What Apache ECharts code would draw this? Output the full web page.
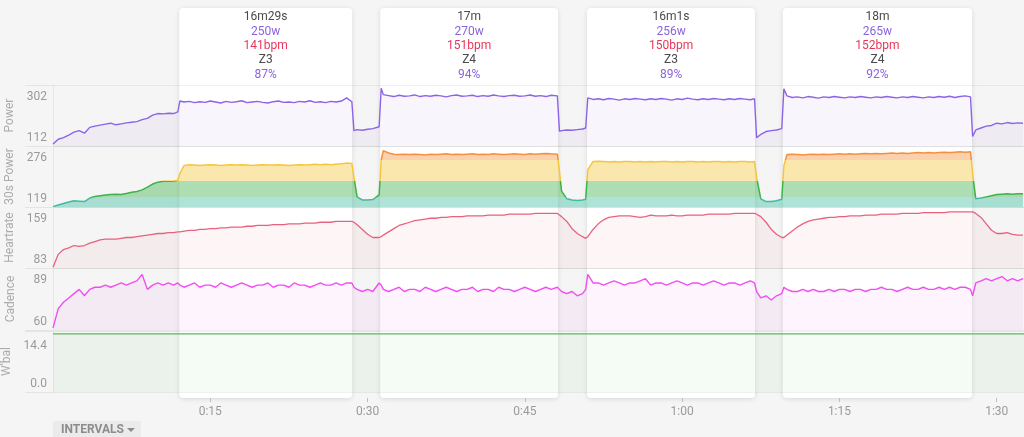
<!DOCTYPE html>
<html><head><meta charset="utf-8">
<script src="https://cdn.jsdelivr.net/npm/echarts@6/dist/echarts.min.js"></script>
<style>html,body{margin:0;padding:0;background:#f5f5f5;}#c{width:1024px;height:437px;}</style>
</head><body><div id="c"></div>
<script>
// ---- time base (minutes) ----
const t = [
 0,0.5,1,1.5,2,2.5,3,3.5,4,4.5,5,5.5,6,6.5,7,7.5,8,8.5,9,9.5,10,10.5,11,11.5,11.9,
 12.1,12.5,13,13.5,14,14.5,15,15.5,16,16.5,17,17.5,18,18.5,19,19.5,20,20.5,21,21.5,22,22.5,23,23.5,24,24.5,25,25.5,26,26.5,27,27.5,28,28.5,
 28.7,29,29.5,30,30.5,31.1,
 31.3,31.5,32,32.5,33,33.5,34,34.5,35,35.5,36,36.5,37,37.5,38,38.5,39,39.5,40,40.5,41,41.5,42,42.5,43,43.5,44,44.5,45,45.5,46,46.5,47,47.5,48.1,
 48.3,48.5,49,49.5,50,50.5,50.8,
 51,51.5,52,52.5,53,53.5,54,54.5,55,55.5,56,56.5,57,57.5,58,58.5,59,59.5,60,60.5,61,61.5,62,62.5,63,63.5,64,64.5,65,65.5,66,66.5,66.9,
 67.1,67.5,68,68.5,69,69.5,
 69.7,70,70.5,71,71.5,72,72.5,73,73.5,74,74.5,75,75.5,76,76.5,77,77.5,78,78.5,79,79.5,80,80.5,81,81.5,82,82.5,83,83.5,84,84.5,85,85.5,86,86.5,87,87.5,
 87.7,88,88.5,89,89.5,90,90.5,91,91.5,92,92.5
];
const power = [
 118,133,138,146,155,160,152,170,174,177,180,183,178,181,184,186,188,194,198,208,213,212,214,213,218,
 252,249,251,247,250,248,252,249,246,251,248,250,253,247,249,251,248,246,250,252,248,249,247,251,249,253,248,250,247,251,249,252,262,250,
 160,163,161,164,166,172,
 292,272,269,266,270,267,268,271,266,269,267,270,268,265,269,271,267,268,270,266,269,267,271,268,266,269,270,267,268,271,267,269,266,270,268,
 158,160,162,161,163,165,168,
 262,257,259,256,260,258,255,259,257,260,258,256,259,257,260,258,255,259,257,261,258,256,259,257,260,258,256,259,257,260,258,256,259,
 138,148,157,160,162,166,
 290,268,263,265,262,266,264,261,265,263,266,264,262,265,263,266,264,262,265,263,266,264,262,265,263,266,264,262,265,263,266,264,267,263,266,268,265,
 142,162,168,174,176,183,181,185,182,184,183
];
const power30 = [
 120,124,128,132,135,134,133,142,146,148,150,151,152,151,154,157,159,163,170,178,183,185,185,186,188,
 205,226,228,227,226,227,228,227,226,227,228,227,228,227,226,227,228,227,227,228,227,226,227,228,227,228,229,228,229,228,229,230,232,231,
 195,145,137,137,138,150,
 240,264,258,255,254,255,254,255,254,253,255,254,255,256,254,255,254,255,256,254,255,254,256,255,254,255,256,255,254,256,255,256,257,256,255,
 210,160,140,137,136,137,139,
 215,236,237,236,235,236,235,236,236,235,236,235,236,235,236,236,235,236,235,236,236,235,236,235,236,236,235,236,235,236,236,235,236,
 195,140,133,133,135,139,
 225,254,255,254,253,254,255,254,255,254,255,256,255,256,255,256,257,256,257,256,257,258,257,258,257,258,259,258,259,258,259,260,259,260,261,260,261,
 205,140,142,145,148,151,152,153,152,153,153
];
const heartrate = [
 84,100,106,108,111,110,111,114,116,118,119,119,119,120,121,121,122,123,124,125,126,126,127,127,128,
 128,129,130,130,131,131,132,132,133,133,134,134,134,135,135,136,136,136,137,137,137,138,138,138,139,139,139,140,140,140,141,141,141,141,
 140,137,131,125,121,121,
 122,124,128,132,136,138,140,142,143,144,145,145,146,146,147,147,147,148,148,148,148,149,149,149,149,150,150,150,150,150,151,151,151,151,151,
 149,147,141,132,126,122,120,
 122,131,138,143,146,147,148,148,148,147,146,147,149,148,148,148,149,148,148,149,149,149,149,150,150,150,150,150,151,151,151,151,151,
 150,147,140,131,125,121,
 121,124,129,134,138,141,143,144,145,146,146,147,147,148,148,148,149,149,149,150,150,150,150,151,151,151,151,152,152,152,152,152,153,153,153,153,153,
 153,151,146,138,130,126,126,127,125,124,124
];
const cadence = [
 61,70,73,75,77,79,76,79,80,80,81,80,81,82,81,82,83,86,79,81,82,81,82,81,82,
 81,80,81,82,80,81,81,80,82,81,80,81,82,81,80,81,81,82,80,81,81,80,82,81,81,80,81,82,81,81,82,81,82,82,
 80,79,78,79,78,82,
 81,79,78,79,80,78,79,79,78,80,79,78,79,80,79,78,79,79,80,78,79,79,78,80,79,79,78,79,80,79,78,79,80,79,80,
 79,78,77,78,76,77,79,
 86,82,82,81,82,83,82,81,82,82,83,84,81,82,82,81,82,83,82,81,82,82,81,82,83,82,81,82,82,81,82,83,82,
 78,75,76,74,76,77,
 80,79,78,78,79,78,79,78,78,79,78,79,79,78,79,79,78,79,79,80,79,79,78,79,80,79,79,80,79,79,80,79,80,79,80,80,79,
 76,82,83,84,83,84,85,83,84,83,84
];
const wbalT = [0, 92.6];
const wbal = [14.4, 14.4];

// intervals
const intStart = [12.04, 31.2, 50.93, 69.6];
const intEnd = [28.53, 48.17, 66.95, 87.64];
const intDuration = ['16m29s', '17m', '16m1s', '18m'];
const intPower = ['250w', '270w', '256w', '265w'];
const intHr = ['141bpm', '151bpm', '150bpm', '152bpm'];
const intZone = ['Z3', 'Z4', 'Z3', 'Z4'];
const intPct = ['87%', '94%', '89%', '92%'];

// axis ticks
const xTicks = [15, 30, 45, 60, 75, 90];
const powerTicks = [112, 302];
const power30Ticks = [119, 276];
const hrTicks = [83, 159];
const cadenceTicks = [60, 89];
const wbalTicks = [0, 14.4];

const FONT = 'Roboto, "Noto Sans", sans-serif';
const T_MAX = 92.6;

const panels = [
  {name: 'Power', min: 112, max: 302, labels: powerTicks, fmt: v => String(v), top: 85, h: 61},
  {name: '30s Power', min: 119, max: 276, labels: power30Ticks, fmt: v => String(v), top: 146, h: 61},
  {name: 'Heartrate', min: 83, max: 159, labels: hrTicks, fmt: v => String(v), top: 207, h: 61},
  {name: 'Cadence', min: 60, max: 89, labels: cadenceTicks, fmt: v => String(v), top: 268, h: 62},
  {name: "W'bal", min: 0, max: 15.1, labels: wbalTicks, fmt: v => v.toFixed(1), top: 331, h: 61}
];

const grids = panels.map(p => ({left: 53, right: 0, top: p.top, height: p.h, outerBoundsMode: 'none', containLabel: false}));
grids.push({left: 53, right: 0, top: 8, bottom: 39, outerBoundsMode: 'none', containLabel: false});

const xAxes = panels.map((p, i) => ({gridIndex: i, type: 'value', min: 0, max: T_MAX, show: false}));
xAxes.push({
  gridIndex: 5, type: 'value', min: 0, max: T_MAX, position: 'bottom', offset: 2,
  axisLine: {show: false}, splitLine: {show: false},
  axisTick: {show: true, length: 4, customValues: xTicks, lineStyle: {color: '#bdbdbd'}},
  axisLabel: {customValues: xTicks, color: '#9a9a9a', fontSize: 12, fontFamily: FONT, margin: 6,
    formatter: v => { const h = Math.floor(v / 60), m = Math.round(v % 60); return h + ':' + (m < 10 ? '0' : '') + m; }}
});

const yAxes = panels.map((p, i) => ({
  gridIndex: i, type: 'value', min: p.min, max: p.max, z: 1,
  name: p.name, nameLocation: 'middle', nameGap: 36,
  nameTextStyle: {color: '#ababab', fontSize: 12, fontFamily: FONT},
  axisLine: {show: true, lineStyle: {color: '#e6e6e6'}},
  axisTick: {show: true, length: 28, customValues: [p.min, p.max], lineStyle: {color: '#e4e4e4'}},
  splitLine: {show: true, lineStyle: {color: 'rgba(0,0,0,0.06)'}},
  axisLabel: {customValues: p.labels, formatter: p.fmt, color: '#9a9a9a', fontSize: 12, fontFamily: FONT,
    margin: 6, verticalAlignMinLabel: 'bottom', verticalAlignMaxLabel: 'top', padding: [6, 0, 2, 0]}
}));
yAxes.push({gridIndex: 5, type: 'value', min: 0, max: 1, show: false});

const pairs = (xs, ys) => xs.map((x, i) => [x, ys[i]]);

function lineSeries(idx, xs, ys, color, fill, width) {
  return {
    type: 'line', xAxisIndex: idx, yAxisIndex: idx, z: 2, data: pairs(xs, ys),
    showSymbol: false, symbol: 'none', animation: false,
    lineStyle: {color: color, width: width},
    itemStyle: {color: color},
    areaStyle: {color: fill}
  };
}

const boxSeries = {
  type: 'custom', xAxisIndex: 5, yAxisIndex: 5, z: 0, silent: true, animation: false,
  data: intStart.map((s, i) => [s, intEnd[i], i]),
  renderItem(params, api) {
    const i = api.value(2);
    const p0 = api.coord([api.value(0), 1]);
    const p1 = api.coord([api.value(1), 0]);
    const txt = '{d|' + intDuration[i] + '}\n{p|' + intPower[i] + '}\n{h|' + intHr[i] + '}\n{d|' + intZone[i] + '}\n{p|' + intPct[i] + '}';
    return {
      type: 'group', children: [
        {type: 'rect', shape: {x: p0[0], y: p0[1], width: p1[0] - p0[0], height: p1[1] - p0[1], r: 4},
          style: {fill: '#ffffff', shadowBlur: 5, shadowColor: 'rgba(0,0,0,0.12)', shadowOffsetY: 1}},
        {type: 'text', x: (p0[0] + p1[0]) / 2, y: p0[1] + 2,
          style: {text: txt, align: 'center', verticalAlign: 'top', fontFamily: FONT, fill: '#4a4a4a',
            rich: {
              d: {fill: '#4a4a4a', color: '#4a4a4a', fontSize: 12, lineHeight: 14.4, fontFamily: FONT},
              p: {fill: '#8a63e0', color: '#8a63e0', fontSize: 12, lineHeight: 14.4, fontFamily: FONT},
              h: {fill: '#e8365a', color: '#e8365a', fontSize: 12, lineHeight: 14.4, fontFamily: FONT}
            }}}
      ]
    };
  }
};

const p30 = {
  type: 'line', xAxisIndex: 1, yAxisIndex: 1, z: 2, data: pairs(t, power30),
  showSymbol: false, symbol: 'none', animation: false,
  lineStyle: {width: 1.5},
  areaStyle: {opacity: 0.42}
};

const option = {
  backgroundColor: '#f5f5f5',
  animation: false,
  textStyle: {fontFamily: FONT},
  grid: grids,
  xAxis: xAxes,
  yAxis: yAxes,
  visualMap: [{
    type: 'piecewise', show: false, seriesIndex: 2, dimension: 1,
    pieces: [
      {lt: 145.5, color: '#3fbca0'},
      {gte: 145.5, lt: 186.7, color: '#3db24a'},
      {gte: 186.7, lt: 240, color: '#f5c63c'},
      {gte: 240, color: '#f78f3a'}
    ]
  }],
  series: [
    boxSeries,
    lineSeries(0, t, power, '#8c64e6', 'rgba(140,100,230,0.09)', 1.4),
    p30,
    lineSeries(2, t, heartrate, '#e8627f', 'rgba(232,98,127,0.09)', 1.3),
    lineSeries(3, t, cadence, '#f04ef0', 'rgba(240,78,240,0.09)', 1.4),
    lineSeries(4, wbalT, wbal, '#5cb85c', 'rgba(92,184,92,0.09)', 1.4)
  ],
  graphic: [{
    type: 'group', left: 53, top: 421, silent: true,
    children: [
      {type: 'rect', shape: {x: 0, y: 0, width: 88, height: 20, r: [2, 2, 0, 0]}, style: {fill: '#ebebeb'}},
      {type: 'text', x: 8, y: 9, style: {text: 'INTERVALS', fill: '#8c8c8c', fontSize: 12, fontWeight: 'bold', fontFamily: FONT, verticalAlign: 'middle'}},
      {type: 'polygon', shape: {points: [[74, 7], [82, 7], [78, 11]]}, style: {fill: '#8c8c8c'}}
    ]
  }]
};

const chart = echarts.init(document.getElementById('c'), null, {renderer: 'canvas'});
chart.setOption(option);
</script></body></html>
